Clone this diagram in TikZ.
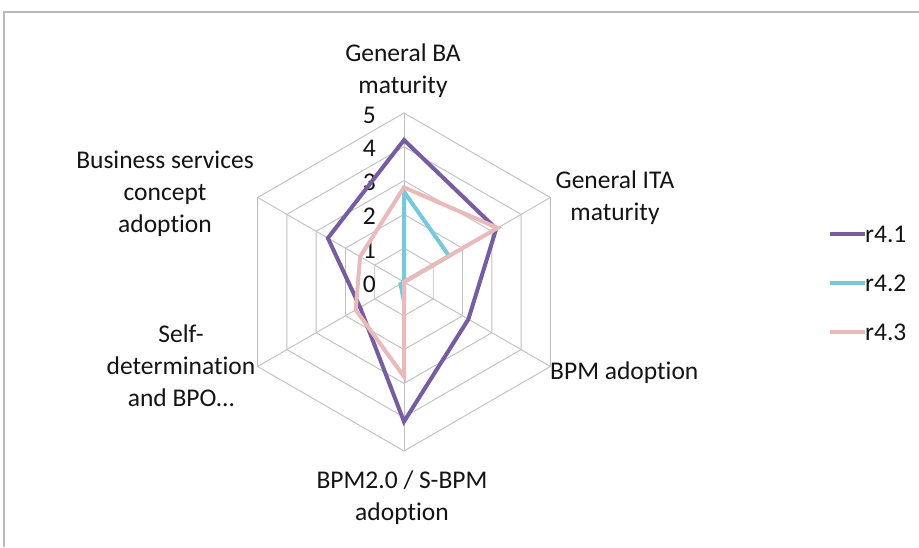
\documentclass[tikz,border=0pt]{standalone}
\usepackage{fontspec}
\setmainfont{Carlito}[Ligatures=NoCommon]
\definecolor{rPurple}{RGB}{118,92,160}
\definecolor{rCyan}{RGB}{118,200,220}
\definecolor{rPink}{RGB}{232,186,186}
\definecolor{gridgray}{RGB}{192,192,192}
\definecolor{framegray}{RGB}{185,185,185}
\definecolor{txt}{RGB}{20,20,20}
\newcommand{\radarseries}[7]{%
  \draw[series,#1] ([shift={(c)}]-90:#2*\unitr) -- ([shift={(c)}]-30:#3*\unitr) -- ([shift={(c)}]30:#4*\unitr)
    -- ([shift={(c)}]90:#5*\unitr) -- ([shift={(c)}]150:#6*\unitr) -- ([shift={(c)}]210:#7*\unitr) -- cycle;}
\def\unitr{33.8}
\begin{document}
\begin{tikzpicture}[x=1pt,y=-1pt,
  gridline/.style={draw=gridgray, line width=0.9pt},
  frameline/.style={draw=framegray, line width=1.2pt},
  series/.style={line width=4pt, line join=miter, miter limit=4},
  catlabel/.style={font=\fontsize{25.5}{32}\selectfont, align=center, text=txt, inner sep=0pt},
  ticklabel/.style={font=\fontsize{25.5}{30}\selectfont, text=txt, inner sep=0pt, anchor=base east},
  legendline/.style={line width=4pt}]
\useasboundingbox (0,0) rectangle (919,547);
\fill[white] (0,0) rectangle (919,547);
\draw[frameline] (4,547) -- (4,12) -- (919,12);
\coordinate (c) at (404,282);
% grid hexagons
\foreach \lv in {1,...,5}{
  \pgfmathsetmacro{\R}{\lv*\unitr}
  \draw[gridline] ([shift={(c)}]-90:\R) -- ([shift={(c)}]-30:\R) -- ([shift={(c)}]30:\R)
    -- ([shift={(c)}]90:\R) -- ([shift={(c)}]150:\R) -- ([shift={(c)}]210:\R) -- cycle;
}
% spokes
\foreach \a in {-90,-30,30,90,150,210}{
  \draw[gridline] (c) -- ([shift={(c)}]\a:5*\unitr);
}
% tick labels
\foreach \lv in {0,...,5}{
  \node[ticklabel] (t\lv) at (376,{282-\lv*\unitr+10}) {\lv};
}
% data series
\radarseries{rPurple}{4.2}{3.15}{2.2}{4.13}{1.5}{2.6}
\radarseries{rCyan}{2.67}{1.54}{0}{0.57}{0.12}{0}
\radarseries{rPink}{2.8}{3.2}{0}{2.8}{1.65}{1.5}
% category labels
\node[catlabel] (cA) at (403,71) {General BA\\maturity};
\node[catlabel] (cB) at (615,198) {General ITA\\maturity};
\node[catlabel, anchor=base west] (cC) at (550,379) {BPM adoption};
\node[catlabel] (cD) at (402,498) {BPM2.0 / S-BPM\\adoption};
\node[catlabel] (cE) at (181,366) {Self-\\determination\\and BPO…};
\node[catlabel] (cF) at (165,194) {Business services\\concept\\adoption};
% legend
\node[catlabel, anchor=west] (l1) at (865,234) {r4.1};
\node[catlabel, anchor=west] (l2) at (865,283) {r4.2};
\node[catlabel, anchor=west] (l3) at (865,332) {r4.3};
\coordinate (k1) at (830,234);
\coordinate (k2) at (830,283);
\coordinate (k3) at (830,332);
\draw[legendline, rPurple] (k1) -- (l1.west);
\draw[legendline, rCyan] (k2) -- (l2.west);
\draw[legendline, rPink] (k3) -- (l3.west);
\end{tikzpicture}
\end{document}
